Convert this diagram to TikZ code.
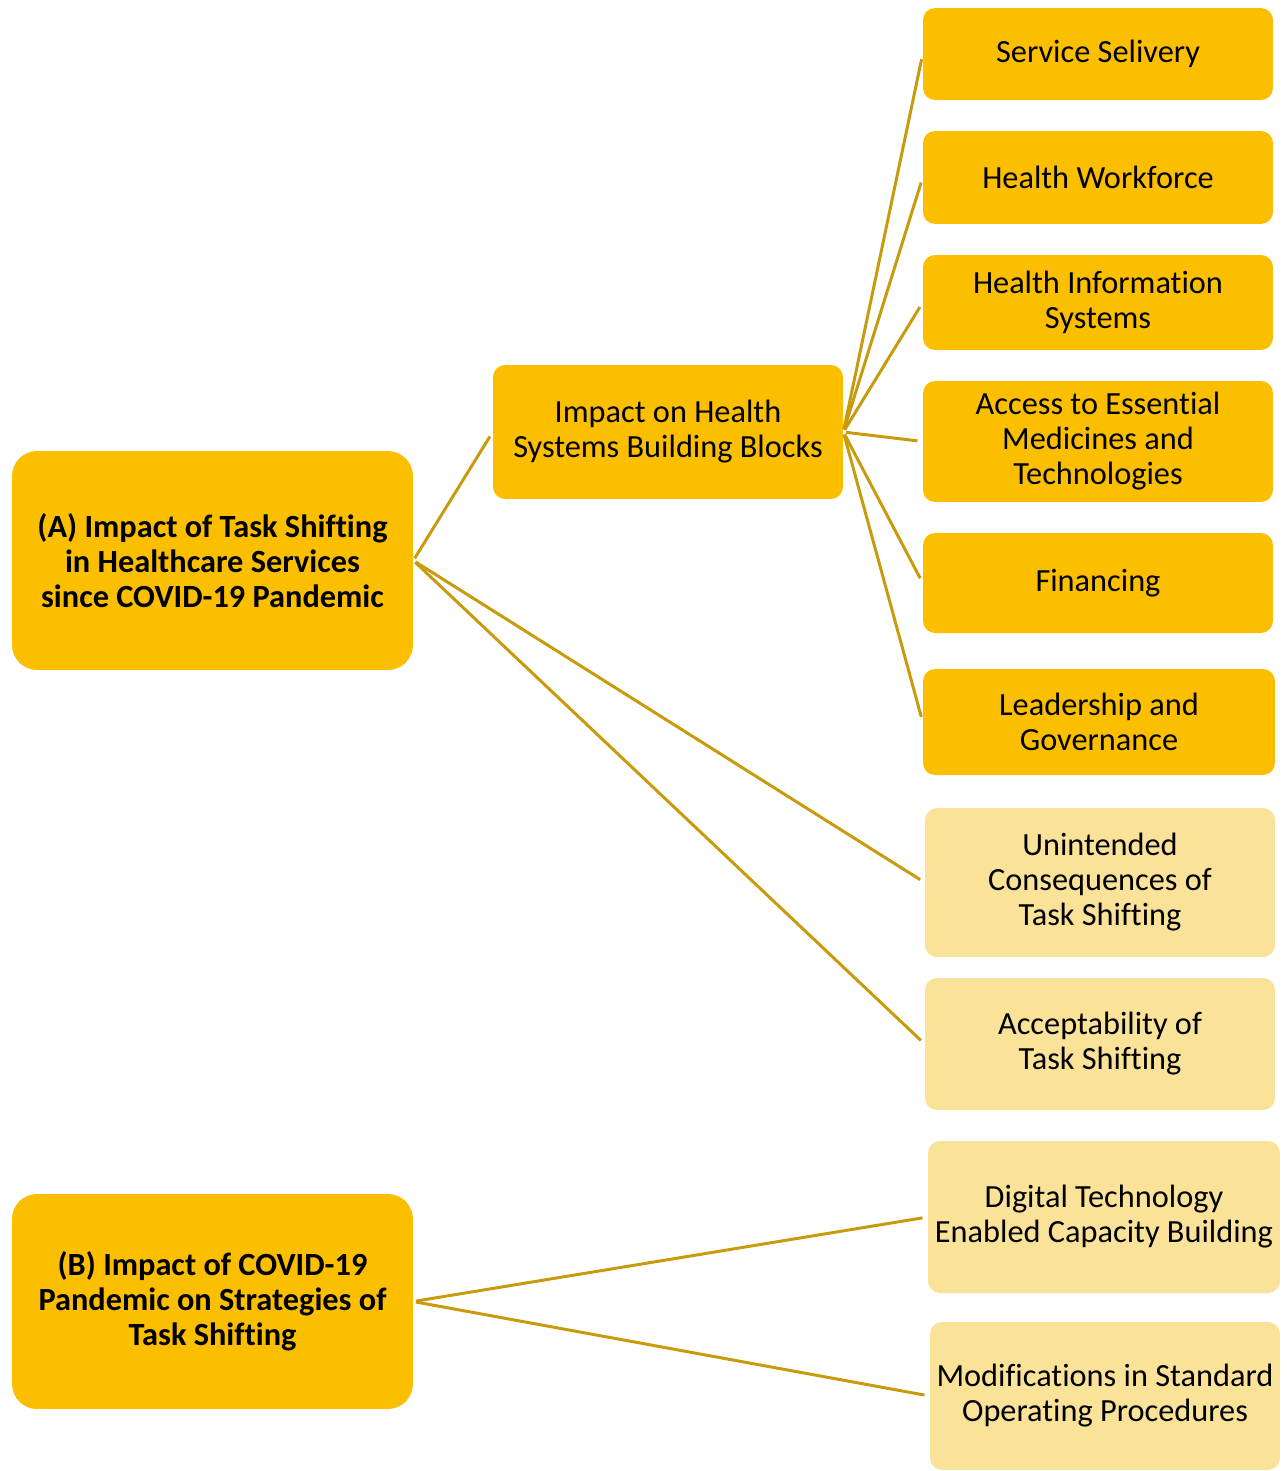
\documentclass[tikz,border=0pt]{standalone}
\usepackage{fontspec}
\setmainfont[RawFeature={-liga}]{Carlito}
\definecolor{darkbox}{RGB}{251,191,0}
\definecolor{lightbox}{RGB}{250,227,152}
\definecolor{linkcol}{RGB}{200,155,12}
\begin{document}
\begin{tikzpicture}[x=0.02cm,y=-0.02cm,
  box/.style={rectangle,rounded corners=0.24cm,inner sep=0pt,align=center,
    font=\fontsize{18.4}{19.9}\selectfont},
  dbox/.style={box,fill=darkbox},
  lbox/.style={box,fill=lightbox},
  bigbox/.style={dbox,rounded corners=0.5cm,font=\fontsize{18.4}{19.9}\selectfont\bfseries},
  link/.style={draw=linkcol,line width=1.7pt,shorten <=1.5pt,shorten >=3pt}]
\useasboundingbox (0,0) rectangle (1287,1471);
\node[bigbox,minimum width=8.02cm,minimum height=4.38cm] (A) at (212.5,560.5)
  {(A) Impact of Task Shifting\\in Healthcare Services\\since COVID-19 Pandemic};
\node[bigbox,minimum width=8.02cm,minimum height=4.30cm] (B) at (212.5,1301.5)
  {(B) Impact of COVID-19\\Pandemic on Strategies of\\Task Shifting};
\node[dbox,minimum width=7cm,minimum height=2.68cm] (imp) at (668,432)
  {Impact on Health\\Systems Building Blocks};
\node[dbox,minimum width=7cm,minimum height=1.84cm] (svc) at (1098,54) {Service Selivery};
\node[dbox,minimum width=7cm,minimum height=1.86cm] (hw) at (1098,177.5) {Health Workforce};
\node[dbox,minimum width=7cm,minimum height=1.90cm] (his) at (1098,302.5) {Health Information\\Systems};
\node[dbox,minimum width=7cm,minimum height=2.42cm] (acc) at (1098,441.5) {Access to Essential\\Medicines and\\Technologies};
\node[dbox,minimum width=7cm,minimum height=2.00cm] (fin) at (1098,583) {Financing};
\node[dbox,minimum width=7.04cm,minimum height=2.12cm] (lead) at (1099,722) {Leadership and\\Governance};
\node[lbox,minimum width=7cm,minimum height=2.98cm] (unint) at (1100,882.5) {Unintended\\Consequences of\\Task Shifting};
\node[lbox,minimum width=7cm,minimum height=2.64cm] (accept) at (1100,1044) {Acceptability of\\Task Shifting};
\node[lbox,minimum width=7.04cm,minimum height=3.04cm] (dig) at (1104,1217) {Digital Technology\\Enabled Capacity Building};
\node[lbox,minimum width=7cm,minimum height=2.96cm] (mod) at (1105,1396) {Modifications in Standard\\Operating Procedures};
\draw[link] (A.east) -- (imp.west);
\foreach \t in {svc,hw,his,acc,fin,lead}
  \draw[link] (imp.east) -- (\t.west);
\draw[link] (A.east) -- (unint.west);
\draw[link] (A.east) -- (accept.west);
\draw[link] (B.east) -- (dig.west);
\draw[link] (B.east) -- (mod.west);
\end{tikzpicture}
\end{document}
